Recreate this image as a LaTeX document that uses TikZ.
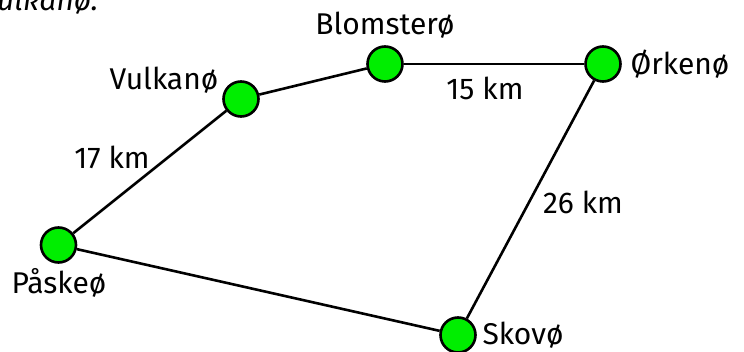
\documentclass[tikz,border=0pt]{standalone}
\usepackage{fontspec}
\setmainfont{Fira Sans}
\definecolor{isl}{RGB}{0,238,0}
\begin{document}
\begin{tikzpicture}[x=1pt,y=-1pt,
  island/.style={circle,draw=black,fill=isl,line width=2.6pt,minimum size=35pt,inner sep=0pt},
  lbl/.style={font=\fontsize{30}{33}\selectfont,inner sep=0pt},
  road/.style={line width=2.6pt}]
\useasboundingbox (0,0) rectangle (744,352);
\node[lbl,anchor=base west] (cap) at (-3,11) {\itshape ulkanø.};
\node[island] (v) at (241,99) {};
\node[island] (b) at (385,64) {};
\node[island] (o) at (603,64) {};
\node[island] (p) at (58.5,245) {};
\node[island] (s) at (458,335) {};
\draw[road] (p) -- (v);
\draw[road] (v) -- (b);
\draw[road] (b) -- (o);
\draw[road] (o) -- (s);
\draw[road] (s) -- (p);
\node[lbl] (lb) at (385,25) {Blomsterø};
\node[lbl] (lv) at (164,80) {Vulkanø};
\node[lbl] (lo) at (680,64) {Ørkenø};
\node[lbl] (lp) at (59,283) {Påskeø};
\node[lbl] (ls) at (523,335) {Skovø};
\node[lbl] (d1) at (485,88) {15 km};
\node[lbl] (d2) at (112,157) {17 km};
\node[lbl] (d3) at (583,202) {26 km};
\end{tikzpicture}
\end{document}
